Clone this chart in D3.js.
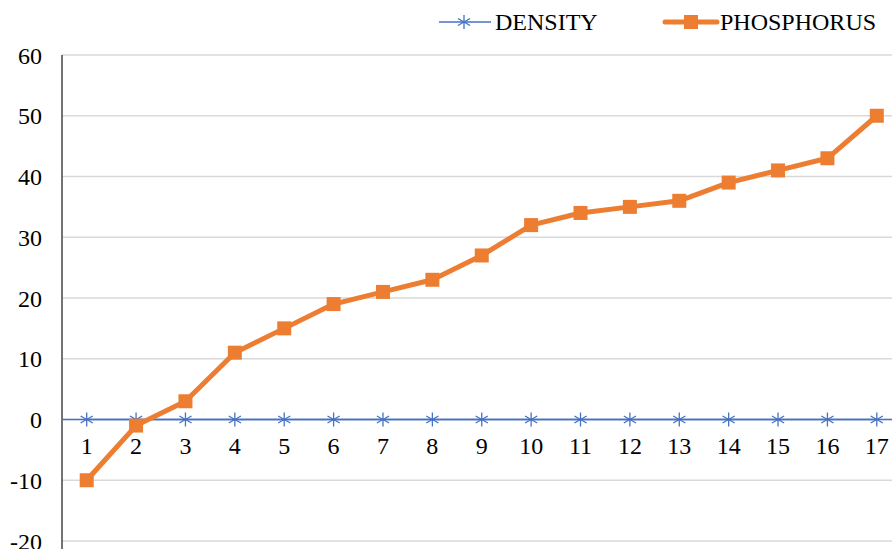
<!DOCTYPE html>
<html><head><meta charset="utf-8">
<script src="https://cdn.jsdelivr.net/npm/d3@7"></script>
<style>body{margin:0;background:#fff}svg{display:block}
svg text{font-family:"Liberation Serif","Tinos","Times New Roman",serif;}</style>
</head><body>
<svg id="c" width="892" height="549"></svg>
<script>
const categories = ["1","2","3","4","5","6","7","8","9","10","11","12","13","14","15","16","17"];
const density = [0,0,0,0,0,0,0,0,0,0,0,0,0,0,0,0,0];
const phosphorus = [-10,-1,3,11,15,19,21,23,27,32,34,35,36,39,41,43,50];
const yTicks = [-20,-10,0,10,20,30,40,50,60];

const svg = d3.select("#c");
const pLeft = 62, pRight = 901.5, pTop = 55, pBottom = 541;
const x = d3.scaleBand().domain(categories).range([pLeft, pRight]);
const y = d3.scaleLinear().domain([-20, 60]).range([pBottom, pTop]);
const cx = d => x(d) + x.bandwidth() / 2;
const fs = 24;

// gridlines
svg.append("g").selectAll("line").data(yTicks).join("line")
  .attr("x1", pLeft).attr("x2", pRight).attr("y1", d => y(d)).attr("y2", d => y(d))
  .attr("stroke", "#d9d9d9").attr("stroke-width", 1.5);

// y axis
const ya = svg.append("g").attr("transform", `translate(${pLeft},0)`)
  .call(d3.axisLeft(y).tickValues(yTicks).tickFormat(d => String(d)).tickSize(0).tickPadding(20));
ya.select(".domain").remove();
ya.attr("font-family", null).attr("font-size", null);
ya.selectAll("text").attr("font-size", fs).attr("fill", "#000").attr("dy", "0.34em");
svg.append("line").attr("x1", pLeft).attr("x2", pLeft).attr("y1", pTop).attr("y2", 549)
  .attr("stroke", "#444").attr("stroke-width", 1.5);

// x labels below zero line
const xa = svg.append("g").attr("transform", `translate(0,${y(0)})`)
  .call(d3.axisBottom(x).tickSize(0).tickPadding(17));
xa.select(".domain").remove();
xa.attr("font-family", null).attr("font-size", null);
xa.selectAll("text").attr("font-size", fs).attr("fill", "#000");

const blue = "#4472c4", orange = "#ed7d31";
const line = d3.line().x((d, i) => cx(categories[i])).y(d => y(d));

// density
svg.append("line").attr("x1", pLeft).attr("x2", pRight).attr("y1", y(0)).attr("y2", y(0))
  .attr("stroke", blue).attr("stroke-width", 1.5);
svg.append("path").datum(density).attr("d", line).attr("fill", "none").attr("stroke", blue).attr("stroke-width", 1.5);
const star = (g, px, py, r) => {
  [[0,-r,0,r],[-r*0.87,-r*0.5,r*0.87,r*0.5],[-r*0.87,r*0.5,r*0.87,-r*0.5]].forEach(s =>
    g.append("line").attr("x1", px+s[0]).attr("y1", py+s[1]).attr("x2", px+s[2]).attr("y2", py+s[3])
      .attr("stroke", blue).attr("stroke-width", 1.3));
};
const sg = svg.append("g");
density.forEach((d, i) => star(sg, cx(categories[i]), y(d), 7));

// phosphorus
svg.append("path").datum(phosphorus).attr("d", line).attr("fill", "none")
  .attr("stroke", orange).attr("stroke-width", 5).attr("stroke-linejoin", "round");
svg.append("g").selectAll("rect").data(phosphorus).join("rect")
  .attr("x", (d, i) => cx(categories[i]) - 7).attr("y", d => y(d) - 7)
  .attr("width", 14).attr("height", 14).attr("fill", orange);

// legend
const lg = svg.append("g");
lg.append("line").attr("x1", 439).attr("x2", 491).attr("y1", 22).attr("y2", 22).attr("stroke", blue).attr("stroke-width", 1.5);
star(lg, 464, 22, 7);
lg.append("text").attr("x", 495).attr("y", 30).text("DENSITY").attr("font-size", fs);
lg.append("line").attr("x1", 665).attr("x2", 717).attr("y1", 22).attr("y2", 22).attr("stroke", orange).attr("stroke-width", 5).attr("stroke-linecap", "round");
lg.append("rect").attr("x", 684).attr("y", 15).attr("width", 14).attr("height", 14).attr("fill", orange);
lg.append("text").attr("x", 720).attr("y", 30).text("PHOSPHORUS").attr("font-size", fs);
</script>
</body></html>
